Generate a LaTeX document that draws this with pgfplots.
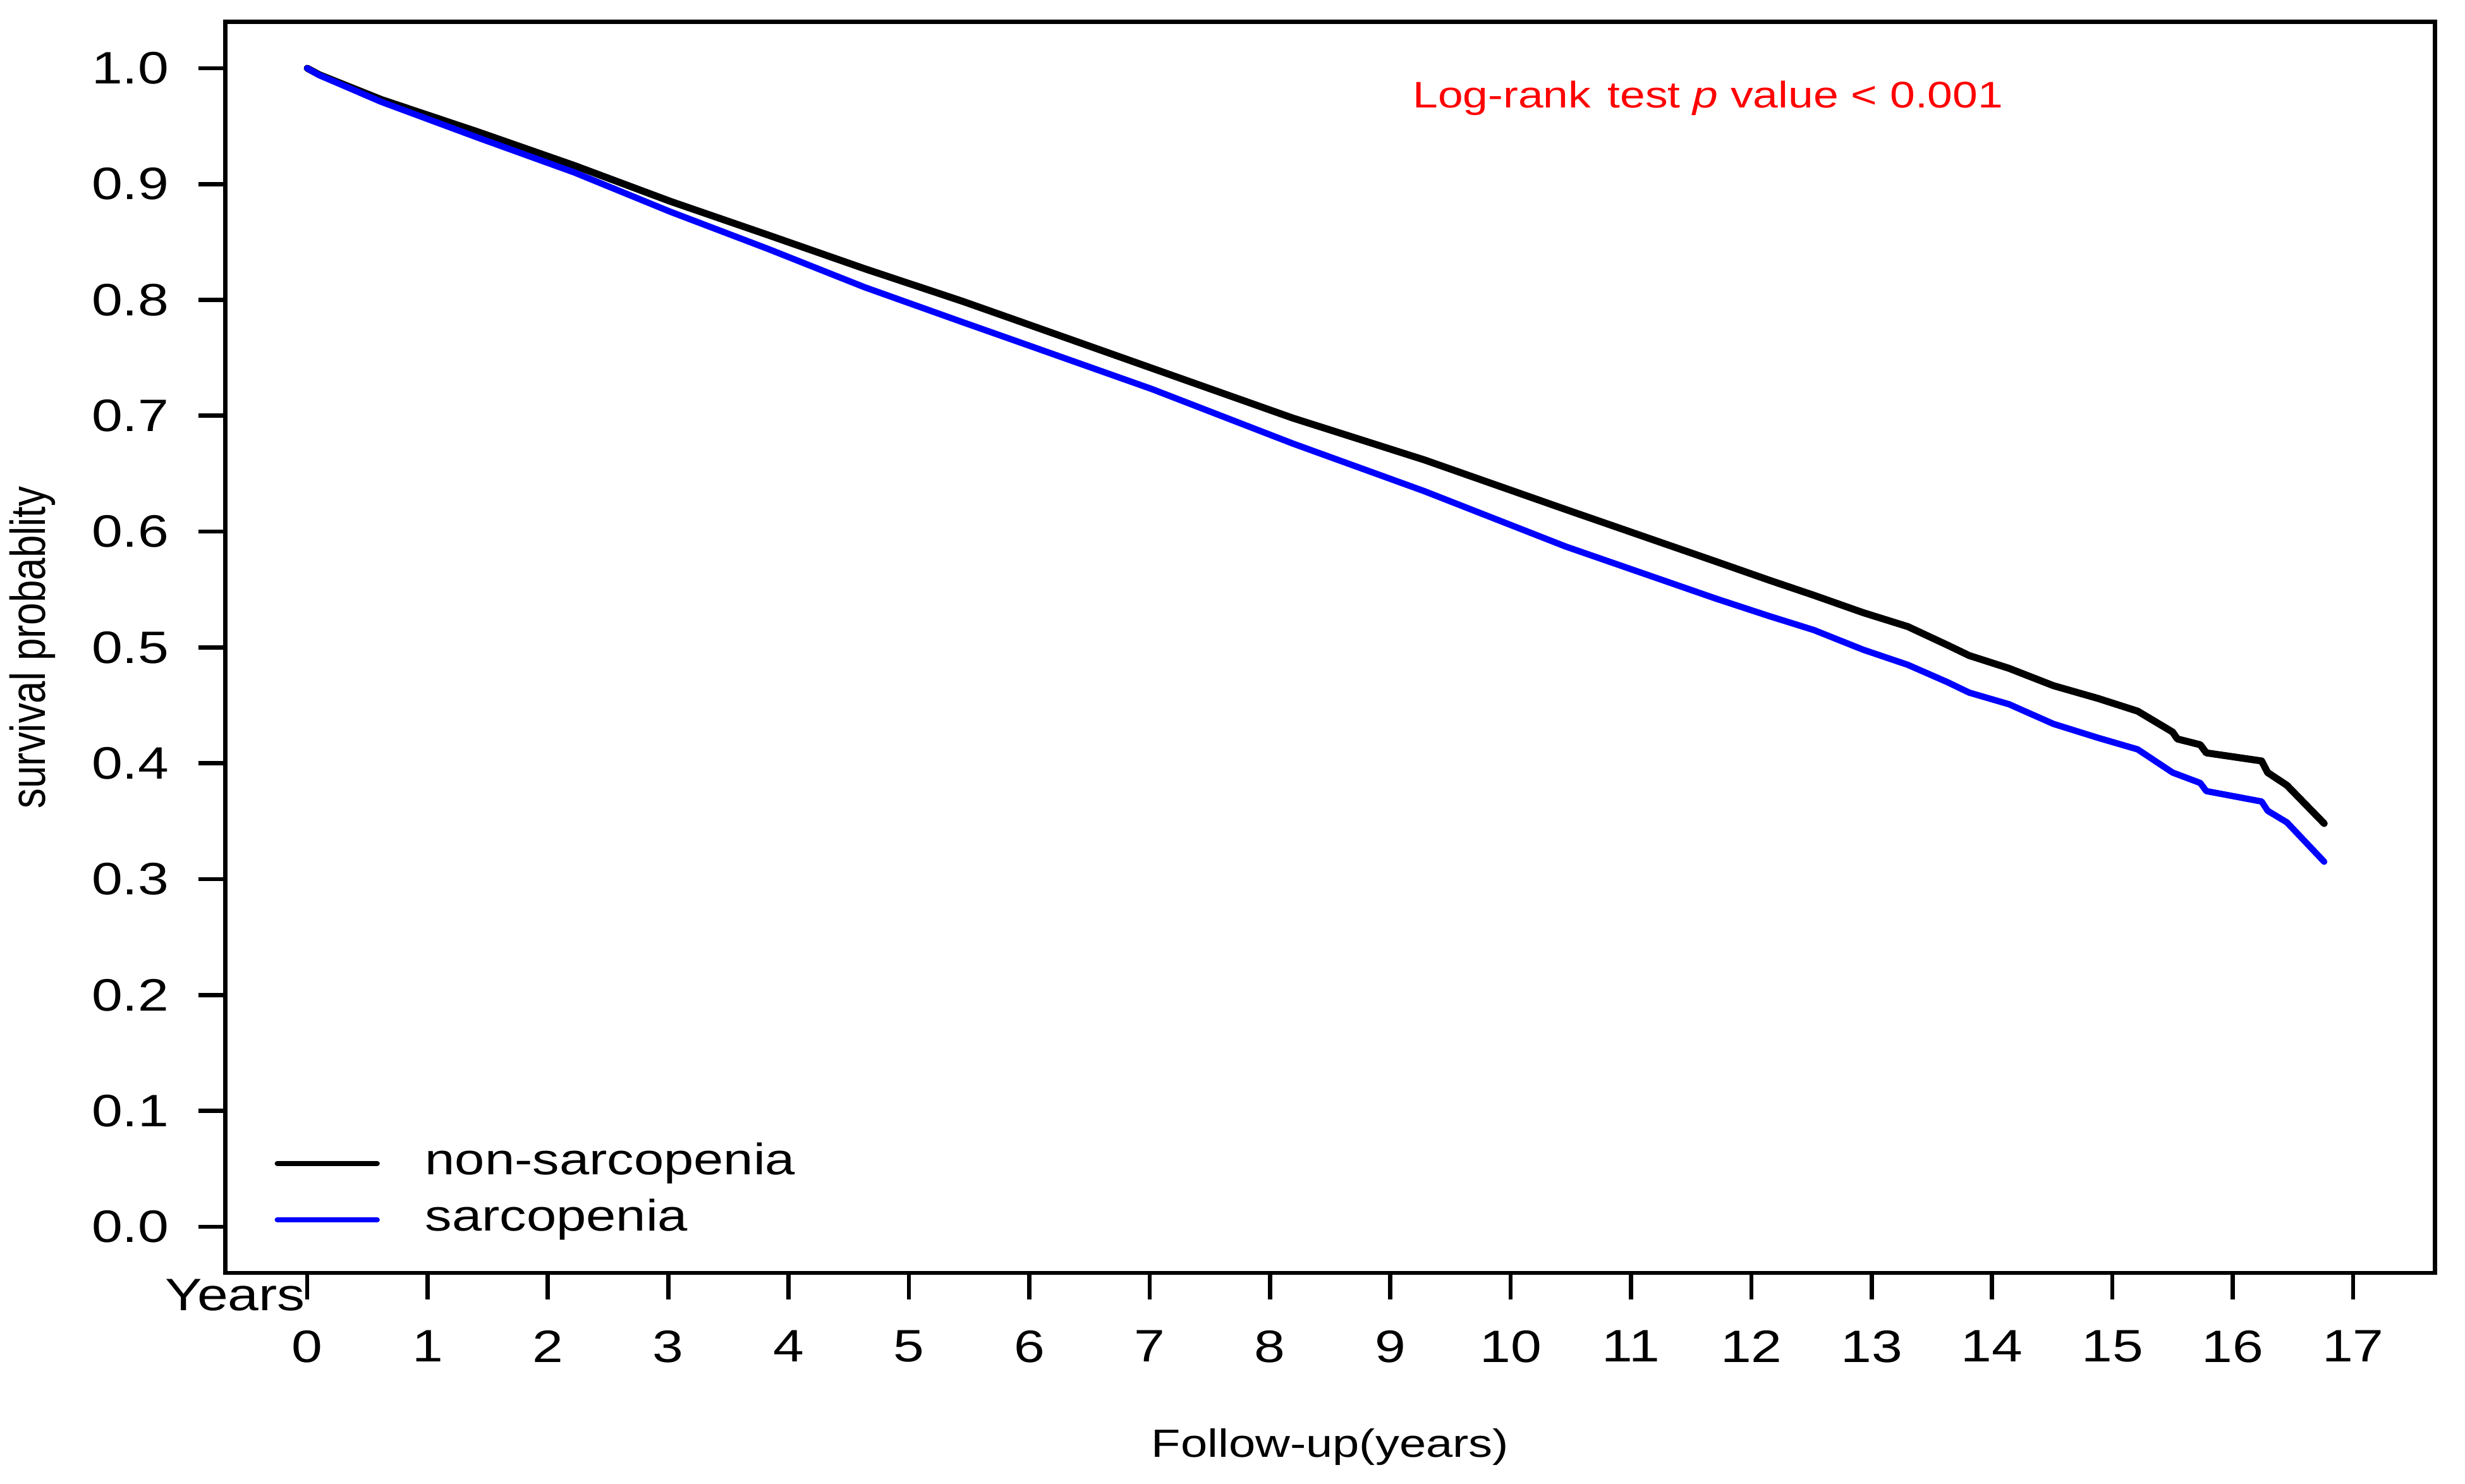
\documentclass[border=0pt]{standalone}
\usepackage{graphicx}
\usepackage{fontspec}
\setmainfont{Liberation Sans}[FakeStretch=1.22]
\newfontfamily\plainfont{Liberation Sans}
\usepackage{pgfplots}
\pgfplotsset{compat=1.18}

% survival estimates
\pgfplotstableread{
t S
0     1.000
0.10  0.9944
0.615 0.973
1.42  0.945
2.22  0.916
3.02  0.885
3.83  0.856
4.63  0.827
5.44  0.799
5.85  0.784
7.02  0.741
8.19  0.698
9.28  0.662
10.46 0.619
11.71 0.574
12.15 0.558
12.52 0.545
12.93 0.530
13.30 0.518
13.63 0.502
13.81 0.493
14.14 0.482
14.51 0.467
14.88 0.456
15.21 0.445
15.50 0.427
15.54 0.421
15.73 0.416
15.78 0.409
16.24 0.402
16.29 0.392
16.45 0.381
16.76 0.348
}\nonsarc

\pgfplotstableread{
t S
0     1.000
0.10  0.9940
0.615 0.971
1.42  0.940
2.22  0.910
3.02  0.876
3.83  0.844
4.63  0.811
5.44  0.781
5.85  0.766
7.02  0.723
8.19  0.676
9.28  0.635
10.46 0.587
11.71 0.542
12.15 0.527
12.52 0.515
12.93 0.498
13.30 0.485
13.63 0.470
13.81 0.461
14.14 0.451
14.51 0.434
14.88 0.422
15.21 0.412
15.50 0.392
15.73 0.383
15.78 0.376
16.24 0.367
16.29 0.359
16.45 0.349
16.76 0.315
}\sarc

\begin{document}
\begin{tikzpicture}
\begin{axis}[
    name=ax,
    scale only axis,
    width=16.581cm, height=9.389cm,
    xmin=-0.68, xmax=17.68,
    ymin=-0.04, ymax=1.04,
    xtick={0,1,...,17},
    ytick={0,0.1,...,1.0},
    tick pos=left,
    tick align=outside,
    major tick length=0.2cm,
    axis line style={line width=0.9pt},
    every tick/.style={black, line width=0.9pt},
    /pgf/number format/assume math mode=true,
    yticklabel style={/pgf/number format/fixed, /pgf/number format/fixed zerofill,
        /pgf/number format/precision=1},
    yticklabel style={font=\fontsize{9.7}{11.6}\selectfont, inner sep=0pt, anchor=east, xshift=-0.218cm},
    xticklabel style={font=\fontsize{9.7}{11.6}\selectfont, inner sep=0pt, anchor=north, yshift=-0.223cm},
    clip=false,
    legend cell align=left,
    legend image code/.code={\draw[#1, line width=1.1pt] (0cm,0cm) -- (0.75cm,0cm);},
    legend style={
        at={(axis cs:-0.27,0.0723)}, anchor=north west,
        draw=none, fill=none, inner sep=0pt, outer sep=0pt,
        font=\fontsize{9.4}{11}\selectfont,
        row sep=3.2pt,
        nodes={inner sep=0pt, text height=6.8pt, text depth=2pt},
        /tikz/every odd column/.append style={column sep=0.34cm},
    },
]
% invisible frame: the page of the reference
\path (axis cs:-2.5525,-0.2220) rectangle (axis cs:17.930,1.0589);

\addplot[black, line width=1.5pt, line cap=round, line join=round] table[x=t, y=S] {\nonsarc};
\addplot[blue, line width=1.35pt, line cap=round, line join=round] table[x=t, y=S] {\sarc};
\legend{non-sarcopenia, sarcopenia}

\node[anchor=base, text=red, font=\fontsize{7.9}{9.5}\selectfont, inner sep=0pt]
    at (axis cs:11.64,0.966) {Log-rank\hspace{0.45em}test \textit{p} value < 0.001};
\node[anchor=base east, inner sep=0pt, font=\fontsize{9.7}{11.6}\selectfont]
    at (axis cs:-0.01,-0.0726) {Years};
\node[anchor=base, inner sep=0pt, font=\fontsize{8.4}{10}\selectfont]
    at (axis cs:8.5,-0.199) {Follow-up(years)};
\node[rotate=90, anchor=center, inner sep=0pt]
    at (axis cs:-2.28,0.5) {\scalebox{1}[1.22]{\plainfont\fontsize{8.6}{10}\selectfont survival probablity}};
\end{axis}
\end{tikzpicture}
\end{document}
